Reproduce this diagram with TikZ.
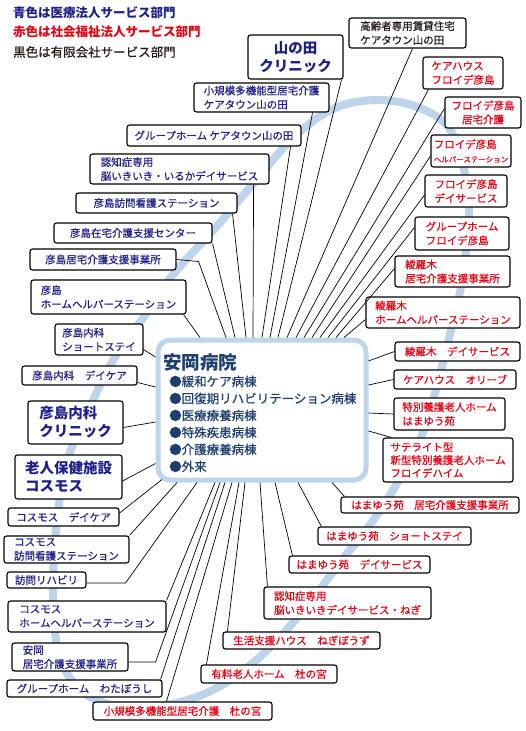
\documentclass[tikz,border=0pt]{standalone}
\usepackage{fontspec}
\setmainfont{Noto Sans CJK JP}
\newfontfamily\boxfont{Noto Sans CJK JP}[FakeBold=0.45]
\usetikzlibrary{calc}
\definecolor{MedBlue}{HTML}{1D2088}
\definecolor{SocRed}{HTML}{E60012}
\definecolor{LtdBlack}{HTML}{231815}
\definecolor{HospText}{HTML}{1E3F6E}
\definecolor{Ring}{HTML}{BDD4EB}
\newcommand{\smallline}[1]{{\fontsize{7.5}{9}\selectfont #1}}

\begin{document}
\begin{tikzpicture}[x=1pt, y=-1pt,
  svcbox/.style={draw=black, line width=1.1pt, rounded corners=2.5pt, fill=white, inner sep=2pt, align=left, font=\boxfont\fontsize{10.5}{14}\selectfont},
  medbox/.style={svcbox, text=MedBlue},
  socbox/.style={svcbox, text=SocRed},
  ltdbox/.style={svcbox, text=LtdBlack},
  boxsize/.style 2 args={minimum width=#1, minimum height=#2},
  bigtext/.style={font=\bfseries\fontsize{14.5}{18}\selectfont},
  keytext/.style={anchor=west, inner sep=0pt, font=\bfseries\fontsize{12.5}{15}\selectfont},
  link/.style={draw=black, line width=0.7pt}]
\useasboundingbox (0,0) rectangle (525,731);

% ring behind everything
\draw[Ring, line width=8pt] plot[smooth cycle, tension=0.6] coordinates {
  (379,100) (420,108) (449,128) (463,165) (469,210) (466,252) (460,292) (451,330)
  (441,370) (424,430) (400,478) (372,522) (342,560) (302,612) (262,655) (222,685)
  (180,702) (130,707) (92,698) (68,675) (56,640) (53,585) (57,520) (67,462)
  (85,418) (112,362) (143,318) (172,276) (217,226) (258,178) (294,137) (335,108)};

% legend
\node[keytext, text=MedBlue] (keyMed) at (13,13) {青色は医療法人サービス部門};
\node[keytext, text=SocRed] (keySoc) at (13,32) {赤色は社会福祉法人サービス部門};
\node[keytext, text=LtdBlack, font=\boxfont\fontsize{12.5}{15}\selectfont] (keyLtd) at (13,52) {黒色は有限会社サービス部門};

% hospital
\node[draw=Ring, line width=5pt, rounded corners=12pt, fill=white, minimum width=208, minimum height=140] (hosp) at (262,410) {};
\node[anchor=west, inner sep=0pt, text=HospText, font=\bfseries\fontsize{18.5}{20}\selectfont] (hosptitle) at (163,362) {安岡病院};
\node[anchor=north west, inner sep=0pt, align=left, text=HospText, font=\boxfont\fontsize{12.5}{17}\selectfont] (hospwards) at (169,375.5) {%
●緩和ケア病棟\\●回復期リハビリテーション病棟\\●医療療養病棟\\●特殊疾患病棟\\●介護療養病棟\\●外来};

% top
\node[medbox, bigtext, align=center, boxsize={95}{44}] (yamanota) at (295.5,57) {山の田\\クリニック};
\node[ltdbox, boxsize={117}{30}] (koreisha) at (407.5,33) {高齢者専用賃貸住宅\\ケアタウン山の田};
\node[medbox, boxsize={135}{29}] (shokibo) at (261.5,97.5) {小規模多機能型居宅介護\\ケアタウン山の田};
\node[medbox, boxsize={174}{21}] (ghyama) at (214,135.5) {グループホーム ケアタウン山の田};
\node[medbox, boxsize={179}{30}] (iruka) at (179.5,169) {認知症専用\\脳いきいき・いるかデイサービス};
\node[medbox, boxsize={161}{20}] (hmkango) at (156.5,203) {彦島訪問看護ステーション};
\node[medbox, boxsize={158}{20}] (hzaitaku) at (133,233) {彦島在宅介護支援センター};
\node[medbox, boxsize={146}{21}] (hkyotaku) at (103,259.5) {彦島居宅介護支援事業所};
\node[medbox, boxsize={155}{34}] (hhelper) at (108.5,297) {彦島\\ホームヘルパーステーション};
\node[medbox, boxsize={88}{31}] (hshort) at (99,339.5) {彦島内科\\ショートステイ};
\node[medbox, boxsize={115}{19}] (hdaycare) at (79.5,375.5) {彦島内科　デイケア};
\node[medbox, bigtext, boxsize={95}{43}] (hclinic) at (75.5,422.5) {彦島内科\\クリニック};

% left and bottom left
\node[medbox, bigtext, boxsize={107}{44}] (cosmos) at (68.5,477) {老人保健施設\\コスモス};
\node[medbox, boxsize={111}{18}] (cdaycare) at (63.5,517) {コスモス　デイケア};
\node[medbox, boxsize={125}{27}] (ckango) at (66.5,549.5) {コスモス\\訪問看護ステーション};
\node[medbox, boxsize={79}{16}] (reha) at (46.5,580) {訪問リハビリ};
\node[medbox, boxsize={158}{31}] (chelper) at (87,616.5) {コスモス\\ホームヘルパーステーション};
\node[medbox, boxsize={116}{28}] (yasuoka) at (70,657) {安岡\\居宅介護支援事業所};
\node[medbox, boxsize={155}{17}] (watabo) at (84.5,688.5) {グループホーム　わたぼうし};

% bottom
\node[socbox, boxsize={179}{18}] (morishoki) at (182.5,711) {小規模多機能型居宅介護　杜の宮};
\node[socbox, boxsize={136}{18}] (yuryo) at (269,674) {有料老人ホーム　杜の宮};
\node[socbox, boxsize={157}{17}] (seikatsu) at (301.5,640.5) {生活支援ハウス　ねぎぼうず};
\node[socbox, boxsize={167}{32}] (negi) at (347.5,603) {認知症専用\\脳いきいきデイサービス・ねぎ};
\node[socbox, boxsize={141}{17}] (hday) at (359.5,564.5) {はまゆう苑　デイサービス};
\node[socbox, boxsize={153}{18}] (hss) at (394.5,536) {はまゆう苑　ショートステイ};
\node[socbox, boxsize={178}{16}] (hkyo) at (430,505) {はまゆう苑　居宅介護支援事業所};

% right
\node[socbox, boxsize={130}{44}, font=\boxfont\fontsize{10.5}{13}\selectfont] (frhaim) at (448,460) {サテライト型\\新型特別養護老人ホーム\\フロイデハイム};
\node[socbox, boxsize={111}{32}] (tokuyo) at (449.5,414) {特別養護老人ホーム\\はまゆう苑};
\node[socbox, boxsize={122}{19}] (olive) at (455,379.5) {ケアハウス　オリーブ};
\node[socbox, boxsize={125}{19}] (aday) at (457.5,351.5) {綾羅木　デイサービス};
\node[socbox, boxsize={154}{31}] (ahelper) at (443,312.5) {綾羅木\\ホームヘルパーステーション};
\node[socbox, boxsize={115}{31}] (akyo) at (452.5,271.5) {綾羅木\\居宅介護支援事業所};
\node[socbox, boxsize={94}{33}] (ghfr) at (462,233.5) {グループホーム\\フロイデ彦島};
\node[socbox, boxsize={82}{32}] (frday) at (466,191) {フロイデ彦島\\デイサービス};
\node[socbox, boxsize={80}{32}] (frhelp) at (471,151) {フロイデ彦島\\\smallline{ヘルパーステーション}};
\node[socbox, boxsize={76}{31}, align=center] (frkyo) at (483,112.5) {フロイデ彦島\\居宅介護};
\node[socbox, boxsize={80}{32}] (chfr) at (463,73) {ケアハウス\\フロイデ彦島};

% links to the top edge
\draw[link] ($(hhelper.south east)+(-3,0)$) -- ($(hosp.north west)+(44.5,0)$);
\draw[link] (hkyotaku.east) -- ++(22,2) -- ($(hosp.north west)+(70.5,0)$);
\draw[link] (hzaitaku.south east) -- ($(hosp.north west)+(79.5,0)$);
\draw[link] ($(hmkango.south east)+(-5,0)$) -- ($(hosp.north west)+(90.5,0)$);
\draw[link] ($(iruka.south east)+(-16,0)$) -- ($(hosp.north west)+(97.5,0)$);
\draw[link] ($(ghyama.south east)+(-11,0)$) -- ($(hosp.north west)+(106.5,0)$);
\draw[link] ($(shokibo.south east)+(-17,0)$) -- ($(hosp.north west)+(114.5,0)$);
\draw[link] ($(yamanota.south east)+(-2,0)$) -- ($(hosp.north west)+(122.5,0)$);
\draw[link] ($(koreisha.south east)+(-54,0)$) -- ($(hosp.north west)+(131.5,0)$);
\draw[link] ($(chfr.south west)+(6,0)$) -- ($(hosp.north west)+(140.5,0)$);
\draw[link] ($(frkyo.west)+(0,-4)$) -- ($(hosp.north west)+(148.5,0)$);
\draw[link] ($(frhelp.west)+(0,5)$) -- ($(hosp.north west)+(156.5,0)$);
\draw[link] ($(frday.west)+(0,4)$) -- ($(hosp.north west)+(164.5,0)$);
\draw[link] ($(ghfr.west)+(0,-6)$) -- ($(hosp.north west)+(172.5,0)$);
\draw[link] ($(akyo.west)+(0,-3)$) -- ($(hosp.north west)+(180.5,0)$);
\draw[link] ($(ahelper.west)+(0,7)$) -- ($(hosp.north west)+(188.5,0)$);

% links to the right edge
\draw[link] (aday.west) -- ($(hosp.north east)+(0,23.5)$);
\draw[link] (olive.west) -- ($(hosp.north east)+(0,47.5)$);
\draw[link] (tokuyo.west) -- ($(hosp.north east)+(0,75.5)$);
\draw[link] ($(frhaim.north west)+(9,0)$) -- ($(hosp.north east)+(0,93.5)$);

% links to the bottom edge
\draw[link] ($(hkyo.north west)+(4,0)$) -- ($(hosp.south west)+(176.5,0)$);
\draw[link] ($(hss.north west)+(4,0)$) -- ($(hosp.south west)+(142.5,0)$);
\draw[link] ($(hday.north west)+(4,0)$) -- ($(hosp.south west)+(119.5,0)$);
\draw[link] ($(negi.north west)+(4,0)$) -- ($(hosp.south west)+(104.5,0)$);
\draw[link] ($(seikatsu.north west)+(5,0)$) -- ($(hosp.south west)+(89.5,0)$);
\draw[link] ($(yuryo.north west)+(6,0)$) -- ($(hosp.south west)+(83.5,0)$);
\draw[link] ($(morishoki.north west)+(74,0)$) -- ($(hosp.south west)+(76.5,0)$);
\draw[link] ($(watabo.north east)+(-2,0)$) -- ($(hosp.south west)+(69.5,0)$);
\draw[link] ($(yasuoka.east)+(0,5)$) -- ++(27,0) -- ($(hosp.south west)+(64.5,0)$);
\draw[link] (chelper.north east) -- ($(hosp.south west)+(59.5,0)$);
\draw[link] ($(reha.east)+(0,3)$) -- ++(39,0) -- ($(hosp.south west)+(41.5,0)$);
\draw[link] (ckango.north east) -- ($(hosp.south west)+(21.5,0)$);
\draw[link] ($(cdaycare.east)+(0,-4)$) -- ($(hosp.south west)+(6.5,-3)$);

% links to the left edge
\draw[link] ($(cosmos.east)+(0,4)$) -- ($(hosp.south west)+(0,-19)$);
\draw[link] ($(hclinic.east)+(0,5)$) -- ($(hosp.north west)+(0,84.5)$);
\draw[link] ($(hdaycare.east)+(0,7)$) -- ($(hosp.north west)+(0,49.5)$);
\draw[link] ($(hshort.east)+(0,10)$) -- ($(hosp.north west)+(0,19.5)$);
\end{tikzpicture}
\end{document}
